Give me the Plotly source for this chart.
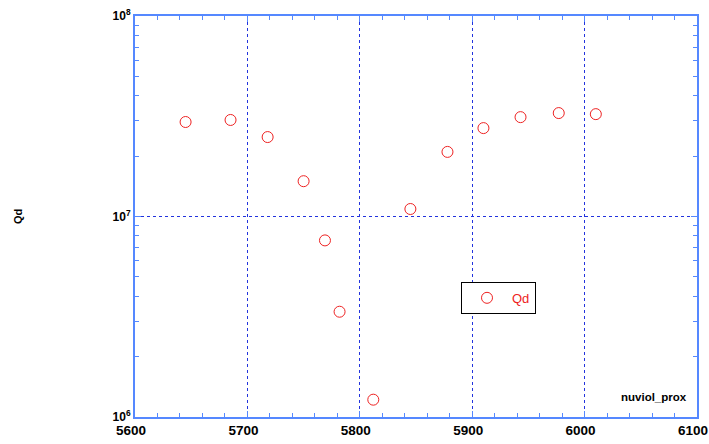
import plotly.graph_objects as go

x_vals = [5645, 5685, 5718, 5750, 5769, 5782, 5812, 5845, 5878, 5910, 5943, 5977, 6010]
qd_vals = [2.96e7, 3.03e7, 2.49e7, 1.50e7, 7.6e6, 3.35e6, 1.22e6, 1.09e7, 2.10e7, 2.76e7, 3.13e7, 3.28e7, 3.24e7]
x_ticks = [5600, 5700, 5800, 5900, 6000, 6100]
y_ticks = [1e6, 1e7, 1e8]
y_ticktext = ["10<sup>6</sup>", "10<sup>7</sup>", "10<sup>8</sup>"]

axis_color = "#5588ff"
grid_color = "#2233dd"

fig = go.Figure()
fig.add_trace(go.Scatter(
    x=x_vals, y=qd_vals, mode="markers", name="Qd",
    marker=dict(symbol="circle-open", size=11, color="#ee2222", line=dict(width=1)),
))

fig.update_layout(
    width=709, height=444,
    margin=dict(l=135, r=12, t=16, b=27, autoexpand=False),
    plot_bgcolor="white", paper_bgcolor="white",
    font=dict(family="Liberation Sans, Arial", size=12, color="black"),
    showlegend=True,
    legend=dict(x=(461 - 135) / 562, y=0.337, xanchor="left", yanchor="top",
                bordercolor="black", borderwidth=1, bgcolor="white",
                font=dict(color="#ee2222", size=13), itemwidth=40),
    xaxis=dict(range=[5600, 6100], tickvals=x_ticks, ticks="inside", ticklen=6,
               tickcolor=axis_color, showline=True, linecolor=axis_color, linewidth=2,
               mirror="allticks", showgrid=True, gridcolor=grid_color, griddash="dot",
               gridwidth=1, zeroline=False, automargin=False,
               ticklabeloverflow="allow", ticklabelshift=-4,
               tickfont=dict(size=13.5, weight="bold"),
               minor=dict(dtick=20, ticks="inside", ticklen=4, tickcolor=axis_color, showgrid=False)),
    yaxis=dict(type="log", range=[6, 8], tickvals=y_ticks, ticktext=y_ticktext,
               ticks="inside", ticklen=6, tickcolor=axis_color, showline=True,
               linecolor=axis_color, linewidth=2, mirror="allticks", showgrid=True,
               gridcolor=grid_color, griddash="dot", gridwidth=1, zeroline=False,
               automargin=False, ticklabeloverflow="allow",
               tickfont=dict(size=12, weight="bold"),
               minor=dict(dtick="D1", ticks="inside", ticklen=4, tickcolor=axis_color, showgrid=False)),
)

fig.add_annotation(text="<b>nuviol_prox</b>", xref="paper", yref="paper",
                   x=0.985, y=0.05, xanchor="right", yanchor="middle",
                   showarrow=False, font=dict(size=11.5, color="black"))
fig.add_annotation(text="<b>Qd</b>", xref="paper", yref="paper",
                   x=-0.209, y=0.5, xanchor="center", yanchor="middle", textangle=-90,
                   showarrow=False, font=dict(size=11, color="black"))

fig.write_html("out.html")
